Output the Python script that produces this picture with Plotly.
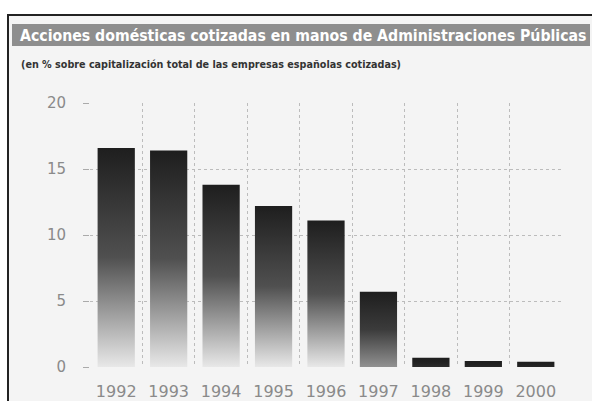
import plotly.graph_objects as go

years = ["1992", "1993", "1994", "1995", "1996", "1997", "1998", "1999", "2000"]
values = [16.6, 16.4, 13.8, 12.2, 11.1, 5.7, 0.7, 0.45, 0.4]
y_ticks = [0, 5, 10, 15, 20]

title = "Acciones domésticas cotizadas en manos de Administraciones Públicas"
subtitle = "(en % sobre capitalización total de las empresas españolas cotizadas)"

W, H = 592, 401
L, R, T, B = 90, 30, 103, 34
PW, PH = W - L - R, H - T - B


def px(x):
    return (x - L) / PW


def py(y):
    return (H - B - y) / PH


def lerp(c1, c2, f):
    return "rgb(%d,%d,%d)" % tuple(round(a + (b - a) * f) for a, b in zip(c1, c2))


dark = (30, 30, 30)
light = (232, 232, 232)
bw = 0.71

fig = go.Figure()
for i, (yr, v) in enumerate(zip(years, values)):
    f = min(v / 10.0, 1.0)
    bottom = lerp(dark, light, f)
    mid = lerp(dark, light, f * 0.25)
    fig.add_trace(go.Scatter(
        x=[i - bw / 2, i + bw / 2, i + bw / 2, i - bw / 2, i - bw / 2],
        y=[0, 0, v, v, 0],
        mode="lines", line=dict(width=0), fill="toself",
        fillgradient=dict(type="vertical", start=0, stop=v,
                          colorscale=[[0, bottom], [0.5, mid], [1, "rgb(30,30,30)"]]),
        hoverinfo="skip", showlegend=False, name=yr,
    ))

fig.update_layout(
    width=W, height=H,
    margin=dict(l=L, r=R, t=T, b=B),
    paper_bgcolor="white", plot_bgcolor="rgba(0,0,0,0)",
    xaxis=dict(range=[-0.5, 8.5], tickvals=list(range(len(years))), ticktext=years,
               showgrid=False, zeroline=False, showline=False, ticks="", automargin=False,
               tickfont=dict(family="DejaVu Sans", size=16, color="#8a8a8a"),
               ticklabelstandoff=13,
               minor=dict(tickvals=[i - 0.5 for i in range(len(years) + 1)], showgrid=True,
                          gridcolor="#bcbcbc", griddash="dot", gridwidth=1, ticks="")),
    yaxis=dict(range=[0, 20], tickvals=y_ticks, showgrid=True, gridcolor="#bcbcbc",
               griddash="dot", gridwidth=1, zeroline=False, showline=False, automargin=False,
               ticks="outside", ticklen=6, tickcolor="#aaaaaa",
               tickfont=dict(family="DejaVu Sans", size=15, color="#8a8a8a"),
               ticklabelstandoff=14),
    shapes=[
        dict(type="rect", xref="paper", yref="paper", x0=px(8), x1=px(600), y0=py(15), y1=py(410),
             line=dict(color="#222", width=2), fillcolor="#f4f4f4", layer="below"),
        dict(type="rect", xref="paper", yref="paper", x0=px(12), x1=px(590), y0=py(24), y1=py(46),
             line=dict(width=0), fillcolor="#8e8e8e", layer="below"),
    ],
    annotations=[
        dict(text="<b>" + title + "</b>", xref="paper", yref="paper", x=px(303), y=py(35),
             xanchor="center", yanchor="middle", showarrow=False,
             font=dict(family="DejaVu Sans Condensed", size=15.7, color="white")),
        dict(text="<b>" + subtitle + "</b>", xref="paper", yref="paper", x=px(19), y=py(64),
             xanchor="left", yanchor="middle", showarrow=False,
             font=dict(family="DejaVu Sans Condensed", size=10.7, color="#333")),
    ],
)

fig.write_html("out.html")
